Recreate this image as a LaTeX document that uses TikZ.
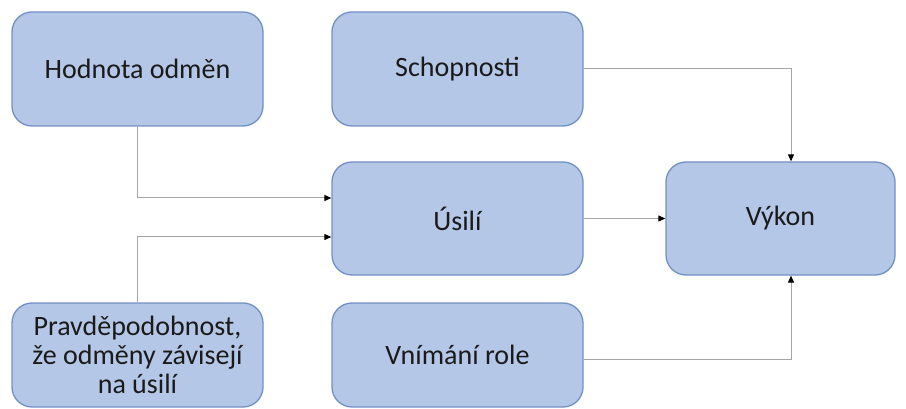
\documentclass[tikz,border=0pt]{standalone}
\usepackage{fontspec}
\setmainfont{Carlito}
\usetikzlibrary{arrows.meta,calc}
\definecolor{boxfill}{HTML}{B4C7E7}
\definecolor{boxline}{HTML}{7390C4}
\definecolor{linkgray}{HTML}{A6A6A6}
\definecolor{txt}{HTML}{1A1A1A}
\tikzset{
  stage/.style={draw=boxline, line width=1.3pt, fill=boxfill, rounded corners=20pt,
    minimum width=251pt, minimum height=114pt, inner sep=0pt, align=center,
    text=txt, font=\fontsize{28}{29}\selectfont},
  link/.style={draw=linkgray, line width=1pt,
    -{Triangle[length=7pt,width=6pt,color=black]}}
}
\begin{document}
\begin{tikzpicture}[x=1pt,y=-1pt]
\useasboundingbox (0,0) rectangle (906,409);
\node[stage] (hod) at (137.5,69) {Hodnota odměn};
\node[stage] (sch) at (457.5,69) {Schopnosti};
\node[stage, minimum height=113pt] (usi) at (457.5,218.5) {Úsilí};
\node[stage, minimum width=229pt, minimum height=113pt] (vyk) at (780.5,218.5) {Výkon};
\node[stage, minimum height=104pt] (pra) at (137.5,355) {Pravděpodobnost,\\že odměny závisejí\\na úsilí};
\node[stage, minimum height=104pt] (vni) at (457.5,355) {Vnímání role};

\draw[link] (hod.south) |- ($(usi.west)+(0,-20.5)$);
\draw[link] (pra.north) |- ($(usi.west)+(0,18.5)$);
\draw[link] (sch.east) -| ($(vyk.north)+(10.5,0)$);
\draw[link] (usi.east) -- (vyk.west);
\draw[link] ($(vni.east)+(0,4)$) -| ($(vyk.south)+(10.5,0)$);
\end{tikzpicture}
\end{document}
